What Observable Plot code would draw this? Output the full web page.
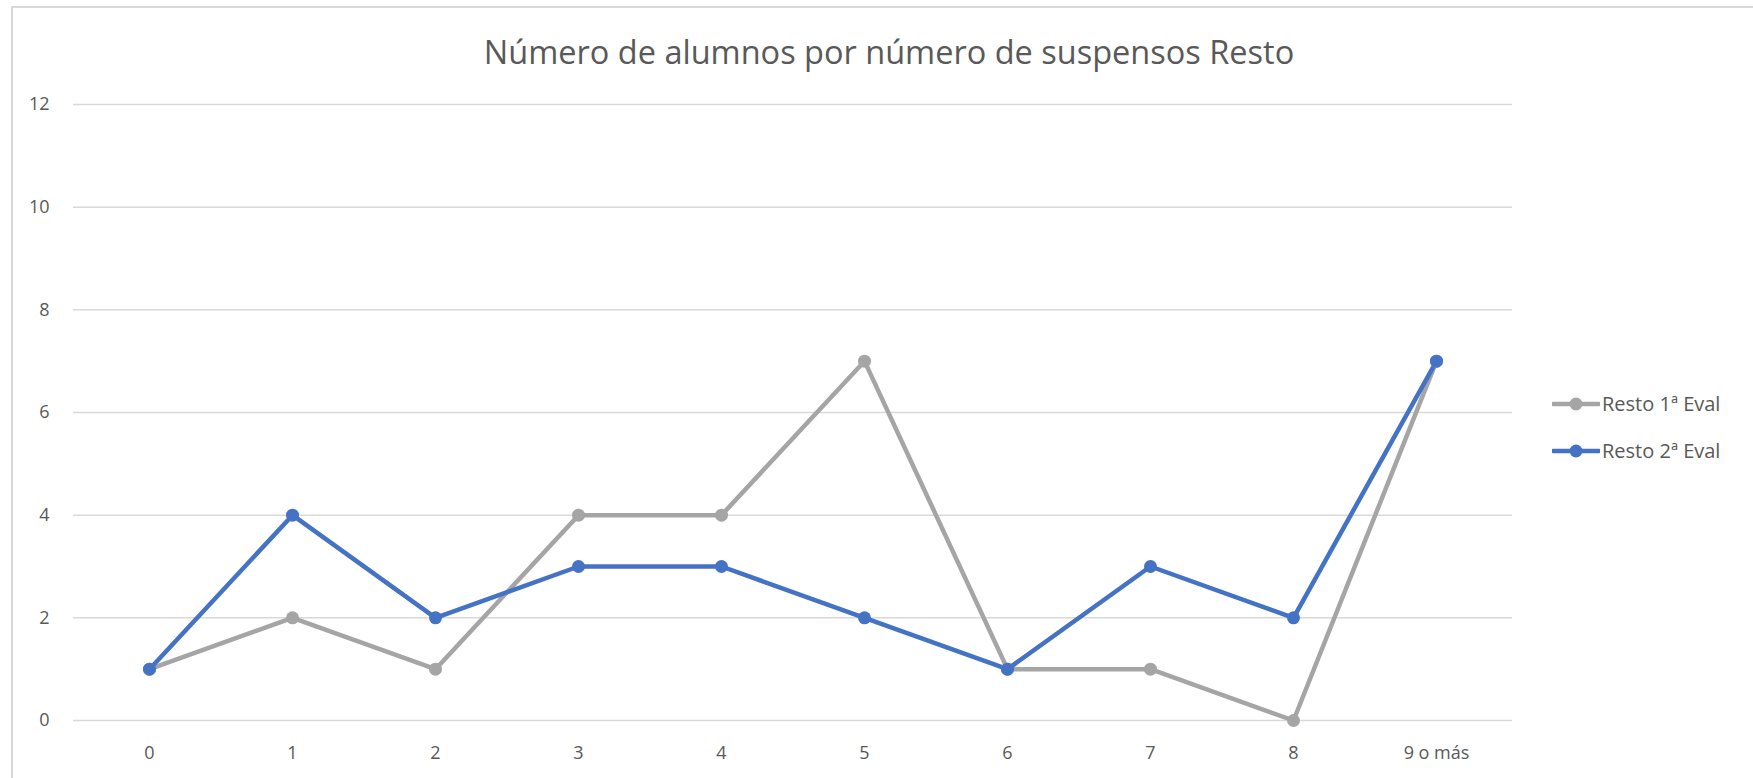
<!DOCTYPE html>
<html>
<head>
<meta charset="utf-8">
<script src="https://cdn.jsdelivr.net/npm/d3@7"></script>
<script src="https://cdn.jsdelivr.net/npm/@observablehq/plot@0.6"></script>
<style>
  html, body { margin: 0; padding: 0; background: #fff; }
  #wrap { position: relative; width: 1753px; height: 778px; overflow: hidden; font-family: "Open Sans", sans-serif; }
  #frame { position: absolute; left: 11px; top: 6px; width: 1760px; height: 800px; border: 2px solid #D9D9D9; box-sizing: border-box; }
  #title { position: absolute; left: 0; top: 29px; width: 1778px; text-align: center; font-size: 32.5px; color: #595959; }
  #legend { position: absolute; left: 1552px; top: 380px; font-size: 20px; color: #595959; }
  .li { display: flex; align-items: center; height: 47px; }
  .li svg { margin-right: 2px; }
</style>
</head>
<body>
<div id="wrap">
  <div id="frame"></div>
  <div id="plot"></div>
  <div id="title">Número de alumnos por número de suspensos Resto</div>
  <div id="legend"></div>
</div>
<script>
const categories = ["0", "1", "2", "3", "4", "5", "6", "7", "8", "9 o más"];
const resto1 = [1, 2, 1, 4, 4, 7, 1, 1, 0, 7];
const resto2 = [1, 4, 2, 3, 3, 2, 1, 3, 2, 7];
const seriesNames = ["Resto 1ª Eval", "Resto 2ª Eval"];
const seriesColors = ["#A5A5A5", "#4472C4"];
const yTicks = [0, 2, 4, 6, 8, 10, 12];

const data = [];
categories.forEach((c, i) => data.push({cat: c, v: resto1[i], s: seriesNames[0]}));
categories.forEach((c, i) => data.push({cat: c, v: resto2[i], s: seriesNames[1]}));

const chart = Plot.plot({
  width: 1753,
  height: 778,
  marginTop: 104,
  marginBottom: 58,
  marginLeft: 73,
  marginRight: 241,
  style: {fontFamily: "Open Sans, sans-serif", fontSize: "18px", color: "#595959", background: "transparent"},
  x: {type: "point", domain: categories, padding: 0.5, label: null},
  y: {domain: [0, 12], ticks: yTicks, label: null},
  color: {domain: seriesNames, range: seriesColors},
  marks: [
    Plot.gridY(yTicks, {stroke: "#D9D9D9", strokeOpacity: 1, strokeWidth: 1.5}),
    Plot.axisX({tickSize: 0, tickPadding: 26, fill: "#595959"}),
    Plot.axisY({ticks: yTicks, tickSize: 0, tickPadding: 24, fill: "#595959"}),
    Plot.line(data, {x: "cat", y: "v", z: "s", stroke: "s", strokeWidth: 4.5, strokeLinejoin: "round"}),
    Plot.dot(data, {x: "cat", y: "v", fill: "s", r: 6.5})
  ]
});
document.getElementById("plot").appendChild(chart);

const legend = document.getElementById("legend");
seriesNames.forEach((n, i) => {
  const row = document.createElement("div");
  row.className = "li";
  row.innerHTML = `<svg width="48" height="16"><line x1="1" y1="8" x2="47" y2="8" stroke="${seriesColors[i]}" stroke-width="4.5" stroke-linecap="round"/><circle cx="24" cy="8" r="6.5" fill="${seriesColors[i]}"/></svg><span>${n}</span>`;
  legend.appendChild(row);
});
</script>
</body>
</html>
